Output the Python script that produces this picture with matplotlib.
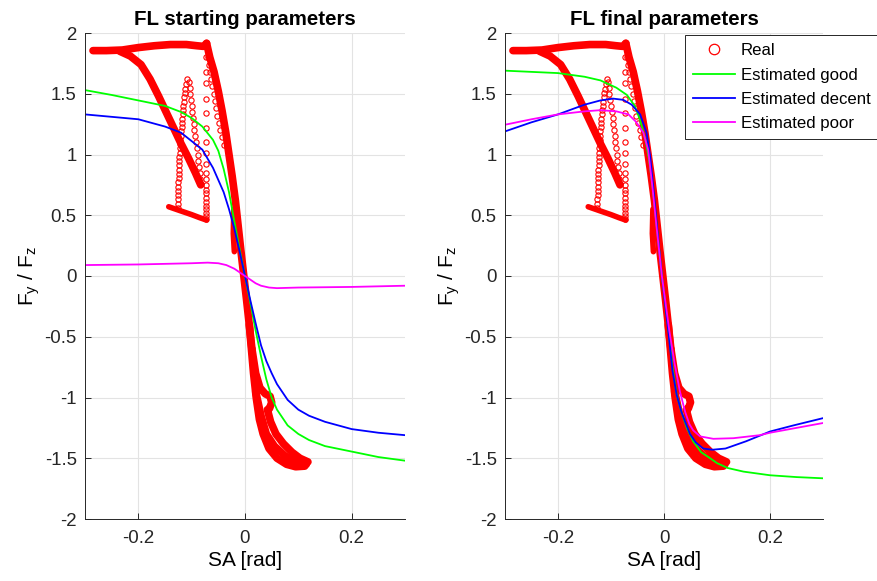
import matplotlib
matplotlib.use("Agg")
import matplotlib.pyplot as plt
from matplotlib.lines import Line2D
from matplotlib.ticker import FuncFormatter

plt.rcParams["font.family"] = ["Liberation Sans", "DejaVu Sans"]
plt.rcParams["axes.unicode_minus"] = False

# ---- measured data (Real), dense parts of the trace ----
top_x = [-0.285, -0.26, -0.23, -0.2, -0.17, -0.14, -0.11, -0.09, -0.078, -0.072]
top_y = [1.855, 1.855, 1.86, 1.88, 1.895, 1.905, 1.905, 1.895, 1.89, 1.915]

diag_x = [-0.235, -0.215, -0.195, -0.178, -0.162, -0.148, -0.134, -0.12, -0.106, -0.093, -0.083]
diag_y = [1.85, 1.81, 1.74, 1.62, 1.48, 1.35, 1.22, 1.09, 0.97, 0.85, 0.75]

base_x = [-0.143, -0.12, -0.1, -0.085, -0.072]
base_y = [0.57, 0.535, 0.505, 0.48, 0.46]

drop_x = [-0.072, -0.066, -0.058, -0.05, -0.043, -0.036, -0.03, -0.024, -0.018,
          -0.013, -0.008, -0.003, 0.003, 0.008, 0.013]
drop_y = [1.915, 1.80, 1.68, 1.52, 1.36, 1.18, 1.0, 0.82, 0.62,
          0.42, 0.22, 0.03, -0.2, -0.4, -0.6]

stub_x = [-0.021, -0.022, -0.02]
stub_y = [0.55, 0.35, 0.2]

tailA_x = [0.008, 0.012, 0.016, 0.021, 0.027, 0.034, 0.045, 0.06, 0.078, 0.095, 0.112]
tailA_y = [-0.4, -0.6, -0.8, -1.0, -1.18, -1.3, -1.42, -1.5, -1.55, -1.57, -1.565]

tailB_x = [0.013, 0.02, 0.028, 0.038, 0.047, 0.05, 0.046, 0.042, 0.048, 0.058,
           0.072, 0.088, 0.103, 0.118]
tailB_y = [-0.6, -0.8, -0.92, -0.97, -0.99, -1.04, -1.09, -1.1, -1.2, -1.3,
           -1.38, -1.45, -1.5, -1.53]

tailC_x = [0.02, 0.03, 0.04, 0.055, 0.075, 0.095, 0.115]
tailC_y = [-0.95, -1.15, -1.3, -1.4, -1.48, -1.53, -1.55]

# ---- measured data (Real), sparse samples ----
col_x = [-0.073] * 21
col_y = [1.80, 1.68, 1.59, 1.46, 1.34, 1.22, 1.10, 1.01, 0.92, 0.85, 0.80,
         0.75, 0.71, 0.68, 0.645, 0.61, 0.58, 0.55, 0.52, 0.49, 0.47]

inner_x = [-0.070, -0.068, -0.066, -0.064, -0.062, -0.059, -0.057,
           -0.054, -0.052, -0.049, -0.046, -0.043, -0.040]
inner_y = [1.80, 1.74, 1.68, 1.62, 1.56, 1.50, 1.44,
           1.38, 1.32, 1.26, 1.20, 1.14, 1.08]

loop_x = [-0.126, -0.126, -0.126, -0.125, -0.125, -0.125, -0.125, -0.124, -0.124,
          -0.124, -0.123, -0.123, -0.123, -0.122, -0.122, -0.121, -0.121, -0.120,
          -0.120, -0.119, -0.118, -0.118, -0.117, -0.117, -0.116, -0.115, -0.114,
          -0.113, -0.112, -0.110, -0.108,
          -0.105, -0.104, -0.103, -0.102, -0.100, -0.099, -0.097, -0.096, -0.095,
          -0.093, -0.092, -0.090, -0.089, -0.088, -0.087, -0.085, -0.084, -0.083]
loop_y = [0.56, 0.595, 0.63, 0.665, 0.70, 0.735, 0.77, 0.805, 0.84,
          0.875, 0.91, 0.945, 0.98, 1.015, 1.05, 1.085, 1.12, 1.155,
          1.19, 1.225, 1.26, 1.295, 1.33, 1.365, 1.40, 1.435, 1.47,
          1.505, 1.54, 1.58, 1.62,
          1.60, 1.55, 1.50, 1.45, 1.40, 1.35, 1.30, 1.25, 1.20,
          1.15, 1.10, 1.05, 1.00, 0.95, 0.90, 0.85, 0.80, 0.76]

# ---- estimated curves, starting parameters ----
s_good_x = [-0.3, -0.25, -0.2, -0.15, -0.12, -0.1, -0.08, -0.06, -0.05, -0.04, -0.03,
            -0.02, -0.01, 0.0, 0.01, 0.02, 0.03, 0.04, 0.05, 0.06, 0.08, 0.1, 0.12,
            0.15, 0.2, 0.25, 0.3]
s_good_y = [1.53, 1.49, 1.445, 1.40, 1.35, 1.30, 1.23, 1.12, 1.03, 0.88, 0.69,
            0.45, 0.22, 0.0, -0.22, -0.45, -0.66, -0.85, -1.0, -1.10, -1.23, -1.30, -1.35,
            -1.40, -1.445, -1.49, -1.52]

s_dec_x = [-0.3, -0.25, -0.2, -0.15, -0.12, -0.1, -0.08, -0.06, -0.04, -0.03, -0.02,
           -0.01, 0.0, 0.01, 0.02, 0.03, 0.04, 0.05, 0.06, 0.08, 0.1, 0.12, 0.15,
           0.2, 0.25, 0.3]
s_dec_y = [1.33, 1.31, 1.29, 1.23, 1.18, 1.11, 1.04, 0.89, 0.69, 0.55, 0.39,
           0.20, 0.0, -0.20, -0.39, -0.57, -0.70, -0.80, -0.89, -1.02, -1.10, -1.15, -1.20,
           -1.26, -1.29, -1.31]

s_poor_x = [-0.3, -0.2, -0.1, -0.07, -0.05, -0.035, -0.02, -0.01, 0.0, 0.01, 0.02,
            0.03, 0.045, 0.06, 0.1, 0.2, 0.3]
s_poor_y = [0.09, 0.095, 0.105, 0.11, 0.105, 0.09, 0.06, 0.03, 0.0, -0.03, -0.06,
            -0.08, -0.095, -0.1, -0.095, -0.09, -0.08]

# ---- estimated curves, final parameters ----
f_good_x = [-0.3, -0.25, -0.2, -0.15, -0.12, -0.09, -0.07, -0.055, -0.045, -0.035,
            -0.028, -0.022, -0.014, -0.004, 0.008, 0.016, 0.024, 0.033, 0.043, 0.055,
            0.07, 0.087, 0.1, 0.12, 0.15, 0.2, 0.25, 0.3]
f_good_y = [1.69, 1.68, 1.67, 1.64, 1.61, 1.55, 1.49, 1.40, 1.28, 1.12,
            0.95, 0.75, 0.42, 0.0, -0.43, -0.75, -0.98, -1.12, -1.25, -1.36,
            -1.45, -1.50, -1.54, -1.58, -1.61, -1.64, -1.655, -1.665]

f_dec_x = [-0.3, -0.25, -0.2, -0.15, -0.12, -0.096, -0.077, -0.061, -0.045, -0.033,
           -0.026, -0.02, -0.013, -0.004, 0.008, 0.016, 0.024, 0.033, 0.04, 0.049,
           0.06, 0.074, 0.091, 0.116, 0.155, 0.2, 0.244, 0.3]
f_dec_y = [1.19, 1.265, 1.33, 1.41, 1.445, 1.46, 1.45, 1.41, 1.33, 1.18,
           0.98, 0.72, 0.40, 0.0, -0.45, -0.78, -0.98, -1.12, -1.2, -1.30,
           -1.37, -1.42, -1.43, -1.42, -1.36, -1.28, -1.23, -1.17]

f_poor_x = [-0.3, -0.25, -0.2, -0.15, -0.12, -0.09, -0.067, -0.053, -0.039, -0.03,
            -0.022, -0.014, -0.004, 0.01, 0.02, 0.03, 0.04, 0.048, 0.055, 0.068,
            0.093, 0.131, 0.181, 0.2, 0.25, 0.3]
f_poor_y = [1.245, 1.29, 1.33, 1.355, 1.365, 1.355, 1.33, 1.27, 1.18, 1.04,
            0.74, 0.40, 0.0, -0.45, -0.72, -0.95, -1.12, -1.22, -1.27, -1.32,
            -1.34, -1.335, -1.31, -1.29, -1.25, -1.21]

yticks = [-2, -1.5, -1, -0.5, 0, 0.5, 1, 1.5, 2]
xticks = [-0.2, 0, 0.2]

RED, GREEN, BLUE, MAG = "#ff0000", "#00ff00", "#0000ff", "#ff00ff"
DARK = "#262626"

fig = plt.figure(figsize=(8.77, 5.81), dpi=100)
ax1 = fig.add_axes([85 / 877, 62 / 581, 320 / 877, 486 / 581])
ax2 = fig.add_axes([505 / 877, 62 / 581, 318 / 877, 486 / 581])


def draw_real(ax):
    for xs, ys in [(top_x, top_y), (diag_x, diag_y), (drop_x, drop_y),
                   (tailA_x, tailA_y), (tailB_x, tailB_y), (tailC_x, tailC_y)]:
        ax.plot(xs, ys, "-", color=RED, lw=5.5, solid_capstyle="round",
                solid_joinstyle="round", zorder=2)
    for xs, ys in [(base_x, base_y), (stub_x, stub_y)]:
        ax.plot(xs, ys, "-", color=RED, lw=4, solid_capstyle="round",
                solid_joinstyle="round", zorder=2)
    for xs, ys in [(col_x, col_y), (inner_x, inner_y), (loop_x, loop_y)]:
        ax.plot(xs, ys, "o", mfc="none", mec=RED, ms=3.8, mew=0.8, zorder=2)


def style(ax, title):
    ax.set_xlim(-0.3, 0.3)
    ax.set_ylim(-2, 2)
    ax.set_xticks(xticks)
    ax.set_yticks(yticks)
    fmt = FuncFormatter(lambda v, _: "%g" % v)
    ax.xaxis.set_major_formatter(fmt)
    ax.yaxis.set_major_formatter(fmt)
    ax.grid(True, color="#e3e3e3", lw=0.8)
    ax.set_axisbelow(True)
    for s in ["top", "right"]:
        ax.spines[s].set_visible(False)
    for s in ["left", "bottom"]:
        ax.spines[s].set_color(DARK)
        ax.spines[s].set_linewidth(0.7)
    ax.tick_params(direction="in", length=4, width=0.7, colors=DARK,
                   labelsize=13.4)
    ax.tick_params(axis="x", pad=8)
    ax.tick_params(axis="y", pad=6)
    ax.set_title(title, fontsize=14.8, fontweight="bold", pad=6)
    ax.set_xlabel("SA [rad]", fontsize=15, labelpad=3)
    ax.set_ylabel(r"F$_\mathregular{y}$ / F$_\mathregular{z}$", fontsize=15,
                  labelpad=2)


draw_real(ax1)
ax1.plot(s_good_x, s_good_y, color=GREEN, lw=1.3)
ax1.plot(s_dec_x, s_dec_y, color=BLUE, lw=1.3)
ax1.plot(s_poor_x, s_poor_y, color=MAG, lw=1.3)
style(ax1, "FL starting parameters")

draw_real(ax2)
ax2.plot(f_good_x, f_good_y, color=GREEN, lw=1.3)
ax2.plot(f_dec_x, f_dec_y, color=BLUE, lw=1.3)
ax2.plot(f_poor_x, f_poor_y, color=MAG, lw=1.3)
style(ax2, "FL final parameters")

handles = [
    Line2D([], [], ls="none", marker="o", mfc="none", mec=RED, ms=7.5, mew=0.9),
    Line2D([], [], color=GREEN, lw=1.3),
    Line2D([], [], color=BLUE, lw=1.3),
    Line2D([], [], color=MAG, lw=1.3),
]
labels = ["Real", "Estimated good", "Estimated decent", "Estimated poor"]
leg = ax2.legend(handles, labels, loc="upper left", bbox_to_anchor=(0.565, 0.996),
                 fontsize=12.1, frameon=True, fancybox=False, framealpha=1,
                 edgecolor=DARK, handlelength=2.5, handletextpad=0.35,
                 labelspacing=0.55, borderpad=0.5, borderaxespad=0)
leg.get_frame().set_linewidth(0.7)

fig.savefig("out.png", dpi=100)
